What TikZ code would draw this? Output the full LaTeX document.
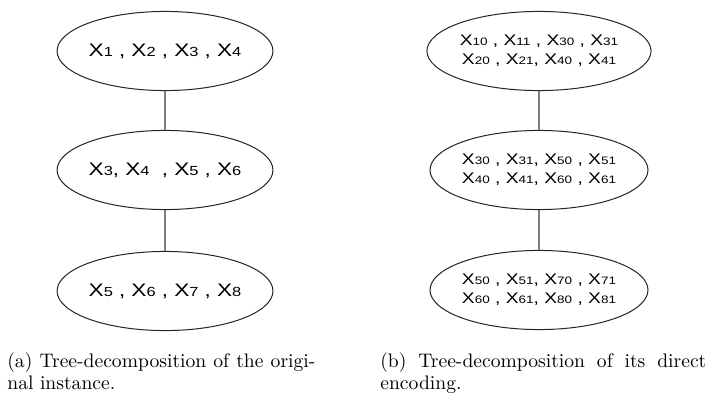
\documentclass[tikz,border=0pt]{standalone}
\usepackage{fontspec}
\newfontfamily\lsans{Liberation Sans}
\usetikzlibrary{shapes.geometric}
\newcommand{\LX}[1]{{\fontsize{9.9}{12}\selectfont X}{\fontsize{7.2}{8}\selectfont #1}}
\newcommand{\RX}[1]{{\fontsize{8.4}{10.9}\selectfont X}{\fontsize{5.9}{7}\selectfont #1}}
\tikzset{
  bag/.style={draw=black!85, line width=0.55pt, ellipse, inner sep=0pt,
    minimum width=116.5pt, minimum height=43.2pt},
  lbag/.style={bag, font=\lsans\fontsize{9.7}{12}\selectfont},
  rbag/.style={bag, minimum width=114pt, font=\lsans\fontsize{8.4}{10.9}\selectfont},
  conn/.style={draw=black!50, line width=0.8pt},
  captxt/.style={anchor=base west, inner sep=0pt, font=\fontsize{10.7}{12}\selectfont}
}
\begin{document}
\begin{tikzpicture}[x=0.546pt, y=-0.546pt]
\useasboundingbox (0,0) rectangle (707,398);
% left tree
\node[lbag] (a1) at (165,51) {\scalebox{1.25}[1]{\LX{1} , \LX{2} , \LX{3} , \LX{4}}};
\node[lbag] (a2) at (165,170) {\scalebox{1.25}[1]{\LX{3}, \LX{4}\ \ , \LX{5} , \LX{6}}};
\node[lbag] (a3) at (165,291) {\scalebox{1.25}[1]{\LX{5} , \LX{6} , \LX{7} , \LX{8}}};
\draw[conn] (a1) -- (a2);
\draw[conn] (a2) -- (a3);
% right tree
\node[rbag] (b1) at (539,51) {\scalebox{1.25}[1]{\begin{tabular}{@{}c@{}}\RX{10} , \RX{11} , \RX{30} , \RX{31}\\ \RX{20} , \RX{21}, \RX{40} , \RX{41}\end{tabular}}};
\node[rbag] (b2) at (539,170) {\scalebox{1.25}[1]{\begin{tabular}{@{}c@{}}\RX{30} , \RX{31}, \RX{50} , \RX{51}\\ \RX{40} , \RX{41}, \RX{60} , \RX{61}\end{tabular}}};
\node[rbag] (b3) at (539,290) {\scalebox{1.25}[1]{\begin{tabular}{@{}c@{}}\RX{50} , \RX{51}, \RX{70} , \RX{71}\\ \RX{60} , \RX{61}, \RX{80} , \RX{81}\end{tabular}}};
\draw[conn] (b1) -- (b2);
\draw[conn] (b2) -- (b3);
% captions
\node[captxt] (ca1) at (7,367) {\makebox[168.2pt][s]{(a) Tree-decomposition of the origi-}};
\node[captxt] (ca2) at (7,389) {nal instance.};
\node[captxt] (cb1) at (380,367) {\makebox[178pt][s]{(b) Tree-decomposition of its direct}};
\node[captxt] (cb2) at (380,389) {encoding.};
\end{tikzpicture}
\end{document}
